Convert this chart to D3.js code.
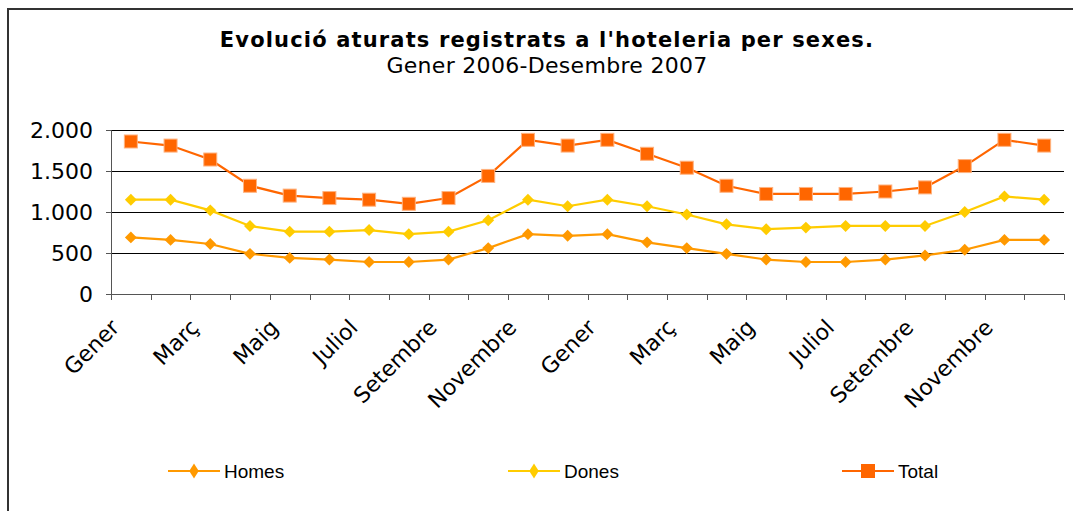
<!DOCTYPE html>
<html>
<head>
<meta charset="utf-8">
<script src="https://cdn.jsdelivr.net/npm/d3@7"></script>
<style>
  body { margin: 0; background: #fff; }
  svg { display: block; }
</style>
</head>
<body>
<div id="chart"></div>
<script>
// mesos gener 2006 - desembre 2007
let months = ['Gener', 'Febrer', 'Març', 'Abril', 'Maig', 'Juny', 'Juliol', 'Agost',
  'Setembre', 'Octubre', 'Novembre', 'Desembre']
let categories = months.map(m => m + ' 2006').concat(months.map(m => m + ' 2007'))
let tickLabels = months.map((m, i) => (i % 2 === 0 ? m : '')).concat(months.map((m, i) => (i % 2 === 0 ? m : '')))

let homes = [690, 660, 610, 490, 440, 420, 390, 390, 420, 560, 730, 710,
  730, 630, 560, 490, 420, 390, 390, 420, 470, 540, 660, 660]
let dones = [1150, 1150, 1020, 830, 760, 760, 780, 730, 760, 900, 1150, 1070,
  1150, 1070, 970, 850, 790, 810, 830, 830, 830, 1000, 1190, 1150]
let total = [1860, 1810, 1640, 1320, 1200, 1170, 1150, 1100, 1170, 1440, 1880, 1810,
  1880, 1710, 1540, 1320, 1220, 1220, 1220, 1250, 1300, 1560, 1880, 1810]

let yTicks = [0, 500, 1000, 1500, 2000]

let width = 1073
let height = 511
let margin = { top: 130, left: 111, right: 9, bottom: 217 }
let plotW = width - margin.left - margin.right
let plotH = height - margin.top - margin.bottom

let series = [
  { name: 'Homes', values: homes, color: '#FF9900', shape: 'diamond' },
  { name: 'Dones', values: dones, color: '#FFCC00', shape: 'diamond' },
  { name: 'Total', values: total, color: '#FF6600', shape: 'square' }
]

let svg = d3
  .select('#chart')
  .append('svg')
  .attr('width', width)
  .attr('height', height)

// marc
svg
  .append('path')
  .attr('d', `M8,${height} L8,9 L${width},9`)
  .attr('fill', 'none')
  .attr('stroke', '#333')
  .attr('stroke-width', 2)

svg
  .append('text')
  .attr('x', 547)
  .attr('y', 47)
  .attr('text-anchor', 'middle')
  .style('font-family', 'DejaVu Sans')
  .style('font-weight', 'bold')
  .style('font-size', '21px')
  .style('letter-spacing', '1.15px')
  .text("Evolució aturats registrats a l'hoteleria per sexes.")

svg
  .append('text')
  .attr('x', 547)
  .attr('y', 73)
  .attr('text-anchor', 'middle')
  .style('font-family', 'DejaVu Sans')
  .style('font-size', '22px')
  .style('letter-spacing', '0.3px')
  .text('Gener 2006-Desembre 2007')

let g = svg.append('g').attr('transform', `translate(${margin.left},${margin.top})`)

let x = d3.scaleBand().domain(categories).range([0, plotW])
let y = d3.scaleLinear().domain([0, 2000]).range([plotH, 0])
let cx = d => x(d) + x.bandwidth() / 2

// graella
g.selectAll('.grid')
  .data(yTicks.filter(d => d > 0))
  .enter()
  .append('line')
  .attr('class', 'grid')
  .attr('x1', 0)
  .attr('x2', plotW)
  .attr('y1', d => Math.round(y(d)) + 0.5)
  .attr('y2', d => Math.round(y(d)) + 0.5)
  .attr('stroke', '#000')

// eix Y
let yAxis = g.append('g').call(d3.axisLeft(y).tickValues(yTicks).tickSize(5).tickPadding(13)
  .tickFormat(d => d3.format(',')(d).replace(',', '.')))
yAxis.select('.domain').attr('stroke', '#555')
yAxis.selectAll('line').attr('stroke', '#555')
yAxis.selectAll('text')
  .style('font-family', 'DejaVu Sans')
  .style('font-size', '22px')
  .attr('fill', '#000')

// eix X
let xAxis = g.append('g').attr('transform', `translate(0,${plotH})`)
xAxis
  .append('line')
  .attr('x1', 0)
  .attr('x2', plotW)
  .attr('y1', 0.5)
  .attr('y2', 0.5)
  .attr('stroke', '#555')
xAxis
  .selectAll('.xtick')
  .data(categories.concat(['end']))
  .enter()
  .append('line')
  .attr('x1', (d, i) => Math.round(i < categories.length ? x(d) : plotW) + 0.5)
  .attr('x2', (d, i) => Math.round(i < categories.length ? x(d) : plotW) + 0.5)
  .attr('y1', 0)
  .attr('y2', 6)
  .attr('stroke', '#555')

xAxis
  .selectAll('.xlabel')
  .data(categories)
  .enter()
  .append('text')
  .attr('class', 'xlabel')
  .attr('transform', d => `translate(${cx(d) - 21},${24}) rotate(-45)`)
  .attr('text-anchor', 'end')
  .attr('dy', '0.7em')
  .style('font-family', 'DejaVu Sans')
  .style('font-size', '22px')
  .text((d, i) => tickLabels[i])

let line = d3
  .line()
  .x((d, i) => cx(categories[i]))
  .y(d => y(d))

let diamond = d3.symbol().type(d3.symbolDiamond2).size(90)

series.forEach(s => {
  g.append('path')
    .datum(s.values)
    .attr('d', line)
    .attr('fill', 'none')
    .attr('stroke', s.color)
    .attr('stroke-width', 2.2)

  let marks = g
    .selectAll('.m-' + s.name)
    .data(s.values)
    .enter()
    .append('g')
    .attr('transform', (d, i) => `translate(${cx(categories[i])},${y(d)})`)

  if (s.shape === 'square') {
    marks
      .append('rect')
      .attr('x', -6.5)
      .attr('y', -6.5)
      .attr('width', 13)
      .attr('height', 13)
      .attr('fill', s.color)
      .attr('stroke', '#FFB27F')
      .attr('stroke-width', 1)
  } else {
    marks
      .append('path')
      .attr('d', diamond)
      .attr('fill', s.color)
  }
})

// llegenda
let legendX = [168, 508, 842]
let legend = svg
  .selectAll('.legend')
  .data(series)
  .enter()
  .append('g')
  .attr('transform', (d, i) => `translate(${legendX[i]},471)`)

legend
  .append('line')
  .attr('x1', 0)
  .attr('x2', 52)
  .attr('stroke', d => d.color)
  .attr('stroke-width', 2)

legend.each(function(d) {
  let lg = d3.select(this)
  if (d.shape === 'square') {
    lg.append('rect')
      .attr('x', 19)
      .attr('y', -7)
      .attr('width', 14)
      .attr('height', 14)
      .attr('fill', d.color)
  } else {
    lg.append('path')
      .attr('d', d3.symbol().type(d3.symbolDiamond2).size(90))
      .attr('transform', 'translate(26,0) scale(0.8,1.25)')
      .attr('fill', d.color)
  }
})

legend
  .append('text')
  .attr('x', 56)
  .attr('y', 7)
  .style('font-family', 'Liberation Sans')
  .style('font-size', '19px')
  .text(d => d.name)
</script>
</body>
</html>
